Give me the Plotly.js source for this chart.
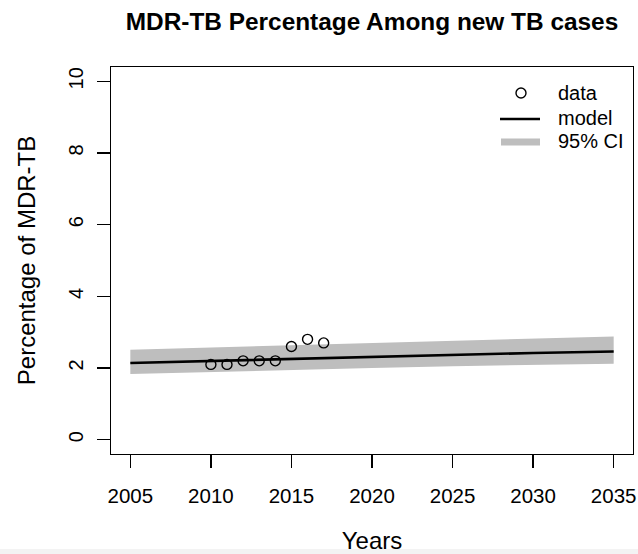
<!DOCTYPE html>
<html>
<head>
<meta charset="utf-8">
<script src="https://cdn.plot.ly/plotly-3.0.1.min.js"></script>
<style>html,body{margin:0;padding:0;background:#fff;}#chart{width:638px;height:554px;}</style>
</head>
<body>
<div id="chart"></div>
<script>
// Observed data
const dataYears = [2010, 2011, 2012, 2013, 2014, 2015, 2016, 2017];
const dataValues = [2.1, 2.1, 2.2, 2.2, 2.2, 2.6, 2.8, 2.7];

// Model fit and 95% CI
const modelYears = [2005, 2010, 2015, 2020, 2025, 2030, 2035];
const modelValues = [2.14, 2.20, 2.25, 2.31, 2.36, 2.42, 2.46];
const ciUpper = [2.51, 2.57, 2.63, 2.69, 2.75, 2.81, 2.88];
const ciLower = [1.83, 1.89, 1.95, 2.00, 2.05, 2.09, 2.12];

const xTicks = [2005, 2010, 2015, 2020, 2025, 2030, 2035];
const yTicks = [0, 2, 4, 6, 8, 10];

const legendLabels = ['data', 'model', '95% CI'];

const FONT = 'Liberation Sans, Arial, Helvetica, sans-serif';
const GREY = '#bebebe';

// plot area geometry (px) for placing the legend in paper coordinates
const M = {l: 111, r: 5, t: 67, b: 100};
const W = 638, H = 554;
const PW = W - M.l - M.r, PH = H - M.t - M.b;
const px = x => (x - M.l) / PW;
const py = y => (H - M.b - y) / PH;

const traces = [
  {
    x: modelYears.concat(modelYears.slice().reverse()),
    y: ciUpper.concat(ciLower.slice().reverse()),
    type: 'scatter', mode: 'lines', fill: 'toself',
    fillcolor: GREY, line: {width: 0, color: GREY},
    name: legendLabels[2], showlegend: false, hoverinfo: 'skip'
  },
  {
    x: modelYears, y: modelValues, type: 'scatter', mode: 'lines',
    line: {color: '#000', width: 2.6}, name: legendLabels[1], showlegend: false
  },
  {
    x: dataYears, y: dataValues, type: 'scatter', mode: 'markers',
    marker: {symbol: 'circle-open', size: 10, color: '#000', line: {width: 1.4, color: '#000'}},
    name: legendLabels[0], showlegend: false
  }
];

const legendRowsY = [93, 119, 142];
const shapes = [
  // light grey strip at the very bottom of the picture
  {type: 'rect', xref: 'paper', yref: 'paper', x0: px(0), x1: px(W), y0: py(549), y1: py(H + 2),
   fillcolor: '#f3f3f3', line: {width: 0}, layer: 'below'},
  // legend: open circle
  {type: 'circle', xref: 'paper', yref: 'paper', xsizemode: 'pixel', ysizemode: 'pixel',
   xanchor: px(521), yanchor: py(legendRowsY[0]), x0: -5, x1: 5, y0: -5, y1: 5,
   line: {color: '#000', width: 1.4}, fillcolor: 'rgba(0,0,0,0)'},
  // legend: model line
  {type: 'line', xref: 'paper', yref: 'paper', x0: px(500), x1: px(540),
   y0: py(legendRowsY[1]), y1: py(legendRowsY[1]), line: {color: '#000', width: 2.6}},
  // legend: CI thick grey line
  {type: 'line', xref: 'paper', yref: 'paper', x0: px(501), x1: px(540),
   y0: py(legendRowsY[2]), y1: py(legendRowsY[2]), line: {color: GREY, width: 7}}
];

const annotations = legendLabels.map((t, i) => ({
  text: t, xref: 'paper', yref: 'paper', x: px(556), y: py(legendRowsY[i] + (i === 0 ? 0 : -1)),
  xanchor: 'left', yanchor: 'middle', showarrow: false,
  font: {family: FONT, size: 20, color: '#000'}
}));

const layout = {
  width: W, height: H,
  margin: M,
  paper_bgcolor: '#fff', plot_bgcolor: '#fff',
  font: {family: FONT, size: 20, color: '#000'},
  title: {
    text: '<b>MDR-TB Percentage Among new TB cases</b>',
    font: {family: FONT, size: 24.4, color: '#000'},
    x: 0.5, xref: 'paper', xanchor: 'center',
    y: 1 - 21 / H, yref: 'container', yanchor: 'middle'
  },
  xaxis: {
    range: [2003.8, 2036.2], tickvals: xTicks, ticktext: xTicks.map(String),
    showgrid: false, zeroline: false,
    showline: true, mirror: true, linecolor: '#000', linewidth: 1.3,
    ticks: 'outside', ticklen: 13, tickwidth: 1.3, tickcolor: '#000',
    ticklabelstandoff: 10,
    tickfont: {family: FONT, size: 20.5, color: '#000'},
    title: {text: 'Years', font: {family: FONT, size: 24, color: '#000'}, standoff: 27}
  },
  yaxis: {
    range: [-0.4, 10.4], tickvals: yTicks, ticktext: yTicks.map(String),
    showgrid: false, zeroline: false,
    showline: true, mirror: true, linecolor: '#000', linewidth: 1.3,
    ticks: 'outside', ticklen: 13, tickwidth: 1.3, tickcolor: '#000',
    tickangle: -90, ticklabelstandoff: 6,
    tickfont: {family: FONT, size: 20, color: '#000'},
    title: {text: 'Percentage of MDR-TB', font: {family: FONT, size: 24, color: '#000'}, standoff: 22}
  },
  shapes: shapes,
  annotations: annotations,
  showlegend: false
};

Plotly.newPlot('chart', traces, layout, {staticPlot: true, displayModeBar: false});
</script>
</body>
</html>
